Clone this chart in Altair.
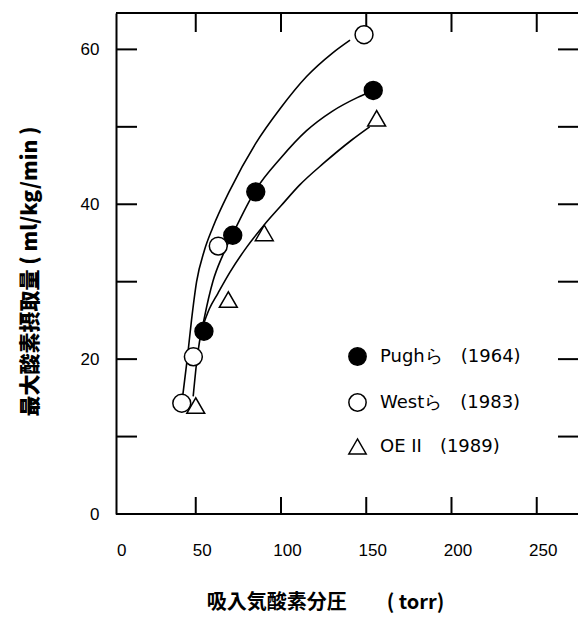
import altair as alt
import pandas as pd

# ---- data ----
SERIES = ["Pughら　(1964)", "Westら　(1983)", "OE II　(1989)"]

PUGH_X = [54.8, 71.7, 85.2, 154.1]
PUGH_Y = [23.6, 36.0, 41.6, 54.7]
WEST_X = [41.8, 48.6, 63.2, 148.7]
WEST_Y = [14.3, 20.3, 34.6, 61.9]
OE_X = [50.0, 69.1, 90.2, 156.1]
OE_Y = [14.0, 27.7, 36.3, 51.1]

WEST_CURVE_X = [42.5, 45.0, 47.5, 50.5, 55.0, 60.0, 70.0, 85.0, 100.0, 115.0, 130.0, 140.5]
WEST_CURVE_Y = [15.5, 20.0, 25.0, 30.0, 34.0, 37.0, 41.8, 47.8, 52.5, 56.5, 59.5, 61.2]
PUGH_CURVE_X = [48.5, 51.0, 55.0, 60.0, 66.0, 72.0, 85.0, 100.0, 115.0, 130.0, 145.0, 151.0]
PUGH_CURVE_Y = [15.2, 20.5, 25.3, 30.0, 33.5, 36.3, 41.8, 46.0, 49.5, 52.0, 53.8, 54.4]
OE_CURVE_X = [55.0, 58.0, 63.0, 70.0, 80.0, 90.0, 100.0, 111.0, 125.0, 141.5, 152.0]
OE_CURVE_Y = [24.8, 26.5, 28.5, 31.2, 34.5, 37.3, 39.8, 42.5, 45.3, 48.3, 50.0]

X_LABELS = [0, 50, 100, 150, 200, 250]
Y_LABELS = [0, 20, 40, 60]
X_TICKS = [50, 100, 150, 200, 250]
Y_TICKS = [10, 20, 30, 40, 50, 60]

X_TITLE = "吸入気酸素分圧　　( torr)"
Y_TITLE = "最大酸素摂取量 ( ml/kg/min )"

# ---- tables ----
pts = pd.concat([
    pd.DataFrame({"x": PUGH_X, "y": PUGH_Y, "s": SERIES[0]}),
    pd.DataFrame({"x": WEST_X, "y": WEST_Y, "s": SERIES[1]}),
    pd.DataFrame({"x": OE_X, "y": OE_Y, "s": SERIES[2]}),
])
curves = pd.concat([
    pd.DataFrame({"x": WEST_CURVE_X, "y": WEST_CURVE_Y, "c": "west"}),
    pd.DataFrame({"x": PUGH_CURVE_X, "y": PUGH_CURVE_Y, "c": "pugh"}),
    pd.DataFrame({"x": OE_CURVE_X, "y": OE_CURVE_Y, "c": "oe"}),
])
xt = pd.DataFrame({"x": X_TICKS})
yt = pd.DataFrame({"y": Y_TICKS})

W, H = 462, 501
NUM_FONT = "Liberation Sans"
CJK_FONT = "Noto Sans CJK JP"

XS = alt.Scale(domain=[0, 274.2], range=[-5.5, W], nice=False, zero=False)
YS = alt.Scale(domain=[0, 64.7], nice=False, zero=False)

XAX = alt.Axis(values=X_LABELS, ticks=False, grid=False, domain=False,
               labelFontSize=17, labelFont=NUM_FONT, labelPadding=28,
               labelOffset=6, labelColor="black",
               title=X_TITLE, titleFont=CJK_FONT, titleFontSize=20,
               titleFontWeight="bold", titleColor="black",
               titleX=209, titleY=88, titleAlign="center", titleBaseline="middle")
YAX = alt.Axis(values=Y_LABELS, ticks=False, grid=False, domain=True,
               domainColor="black", domainWidth=2,
               labelFontSize=17, labelFont=NUM_FONT, labelPadding=17,
               labelColor="black",
               title=Y_TITLE, titleFont=CJK_FONT, titleFontSize=21,
               titleFontWeight=900, titleColor="black",
               titleX=-86, titleY=258, titleAngle=270,
               titleAlign="center", titleBaseline="middle")


def X(field="x"):
    return alt.X(field, type="quantitative", scale=XS, axis=XAX)


def Y(field="y"):
    return alt.Y(field, type="quantitative", scale=YS, axis=YAX)


lines = alt.Chart(curves).mark_line(
    color="black", strokeWidth=1.6, interpolate="monotone"
).encode(x=X(), y=Y(), detail="c:N")

LEG = alt.Legend(title=None, orient="none", legendX=232, legendY=334,
                 symbolSize=300, symbolStrokeWidth=1.5,
                 symbolStrokeColor="black", labelFont="DejaVu Sans",
                 labelFontSize=18, labelColor="black", labelOffset=13,
                 rowPadding=21, labelLimit=300)

points = alt.Chart(pts).mark_point(
    filled=True, strokeWidth=1.5, size=320, opacity=1
).encode(
    x=X(), y=Y(),
    shape=alt.Shape("s:N", scale=alt.Scale(domain=SERIES,
                    range=["circle", "circle", "triangle-up"]), legend=LEG),
    fill=alt.Fill("s:N", scale=alt.Scale(domain=SERIES,
                  range=["black", "white", "white"]), legend=LEG),
    stroke=alt.Stroke("s:N", scale=alt.Scale(domain=SERIES,
                      range=["black", "black", "black"]), legend=LEG),
)

bottom_ticks = alt.Chart(xt).mark_rule(color="black", strokeWidth=2).encode(
    x=X(), y=alt.value(H), y2=alt.value(H - 17))
top_ticks = alt.Chart(xt).mark_rule(color="black", strokeWidth=2).encode(
    x=X(), y=alt.value(0), y2=alt.value(19))
left_ticks = alt.Chart(yt).mark_rule(color="black", strokeWidth=2).encode(
    y=Y(), x=alt.value(0), x2=alt.value(21))
right_ticks = alt.Chart(yt).mark_rule(color="black", strokeWidth=2).encode(
    y=Y(), x=alt.value(W - 20), x2=alt.value(W))

top_frame = alt.Chart(pd.DataFrame({"a": [0]})).mark_rule(
    color="black", strokeWidth=2).encode(
    x=alt.value(0), x2=alt.value(W), y=alt.value(0))
bottom_frame = alt.Chart(pd.DataFrame({"a": [0]})).mark_rule(
    color="black", strokeWidth=2).encode(
    x=alt.value(0), x2=alt.value(W), y=alt.value(H))

chart = alt.layer(
    lines, bottom_ticks, top_ticks, left_ticks, right_ticks,
    top_frame, bottom_frame, points
).properties(
    width=W, height=H, autosize="none",
    padding={"left": 116, "top": 13, "right": 0, "bottom": 105},
    background="white"
).configure_view(stroke=None)

chart.save("out.html", embed_options={"renderer": "svg", "actions": False})
